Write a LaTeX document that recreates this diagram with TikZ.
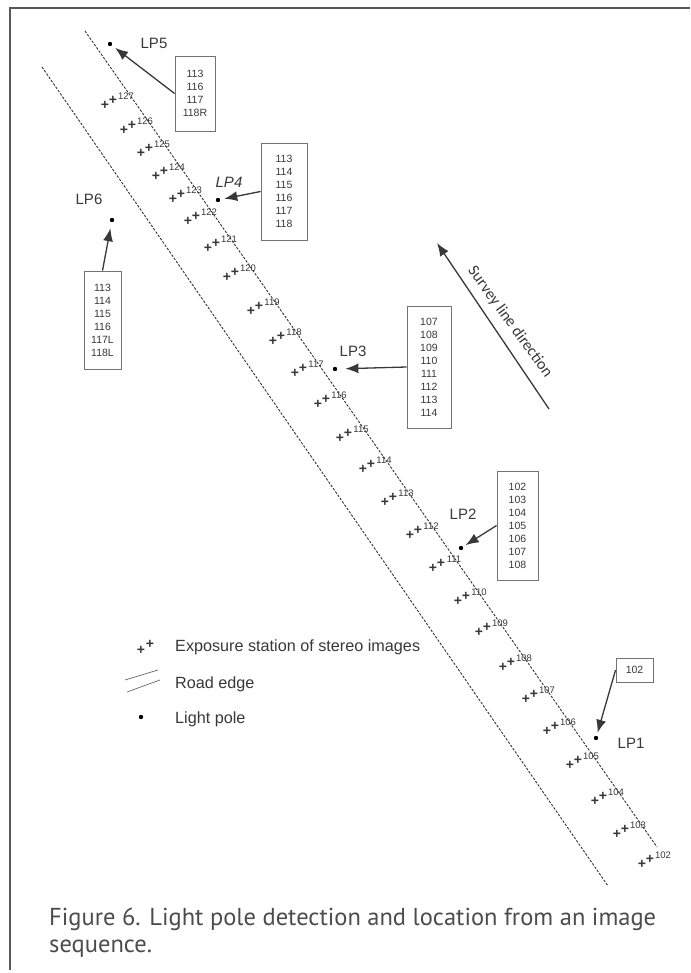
\documentclass[tikz,border=0pt]{standalone}
\usepackage{fontspec}
\setmainfont{Liberation Sans}
\newfontfamily\surveyfont{Carlito}
\newfontfamily\captionfont{PT Sans}
\usetikzlibrary{arrows.meta,calc,positioning}
\definecolor{inkgray}{gray}{0.22}
\tikzset{
  plusmark/.style={inner sep=0pt,font=\fontsize{14}{14}\bfseries\selectfont,text=inkgray},
  stnlabel/.style={inner sep=0pt,font=\fontsize{9.5}{9.5}\selectfont,text=inkgray},
  pole/.style={circle,fill=black,inner sep=0pt,minimum size=4.4pt},
  polename/.style={inner sep=0pt,font=\fontsize{15}{15}\selectfont,text=inkgray},
  listbox/.style={draw=black!55,line width=0.9pt,inner sep=0pt,align=center,
    font=\fontsize{10.5}{13}\selectfont,text=inkgray},
  ptr/.style={-{Latex[length=13pt,width=10pt]},line width=1.3pt,draw=inkgray},
  road/.style={dash pattern=on 2.5pt off 1.5pt,line width=0.9pt,draw=black!80},
  legendtext/.style={anchor=west,inner sep=0pt,font=\fontsize{16.2}{16.2}\selectfont,text=inkgray},
  captext/.style={anchor=base west,inner sep=0pt,text=black!70,font=\captionfont\fontsize{24.5}{24.5}\selectfont}
}
\newcommand{\stn}[3]{%
  \node[plusmark] (s#1) at (#2,#3) {+};
  \node[plusmark] (s#1b) at ($(s#1)+(8,-5)$) {+};
  \node[stnlabel] (t#1) at ($(s#1)+(21,-9)$) {#1};
}
\begin{document}
\begin{tikzpicture}[x=1pt,y=-1pt,>=Latex]
  \useasboundingbox (0,0) rectangle (690,973);
  % frame, top and left only
  \coordinate (frameA) at (690,8);
  \coordinate (frameB) at (10,8);
  \coordinate (frameC) at (10,970);
  \draw[line width=1.2pt,draw=black!65] (frameA) -- (frameB) -- (frameC);
  % road edges
  \coordinate (roadRa) at (85,31);
  \coordinate (roadRb) at (657,847);
  \coordinate (roadLa) at (42,67);
  \coordinate (roadLb) at (608,886);
  \draw[road] (roadRa) -- (roadRb);
  \draw[road] (roadLa) -- (roadLb);
  % exposure stations
  \stn{127}{105}{105}
  \stn{126}{124}{130}
  \stn{125}{141}{153}
  \stn{124}{156}{176}
  \stn{123}{173}{199}
  \stn{122}{188}{221}
  \stn{121}{208}{248}
  \stn{120}{227}{277}
  \stn{119}{251}{311}
  \stn{118}{273}{341}
  \stn{117}{295}{373}
  \stn{116}{318}{404}
  \stn{115}{340}{438}
  \stn{114}{363}{469}
  \stn{113}{385}{502}
  \stn{112}{410}{535}
  \stn{111}{433}{568}
  \stn{110}{458}{601}
  \stn{109}{479}{632}
  \stn{108}{503}{667}
  \stn{107}{526}{699}
  \stn{106}{547}{731}
  \stn{105}{570}{765}
  \stn{104}{595}{801}
  \stn{103}{617}{834}
  \stn{102}{642}{864}
  % light poles
  \node[pole] (lp1) at (596,738) {};
  \node[pole] (lp2) at (461,548) {};
  \node[pole] (lp3) at (335,369) {};
  \node[pole] (lp4) at (218,200) {};
  \node[pole] (lp5) at (110,44) {};
  \node[pole] (lp6) at (112,220) {};
  \node[polename] (name1) at (631,743) {LP1};
  \node[polename] (name2) at (463,514) {LP2};
  \node[polename] (name3) at (353,351) {LP3};
  \node[polename] (name4) at (229,182) {\itshape LP4};
  \node[polename] (name5) at (154,43) {LP5};
  \node[polename] (name6) at (89,199) {LP6};
  % frame numbers
  \node[listbox,minimum width=37pt,minimum height=24pt] (box1) at (634.5,670) {102};
  \node[listbox,minimum width=41pt,minimum height=109pt] (box2) at (517.5,525.5) {102\\103\\104\\105\\106\\107\\108};
  \node[listbox,minimum width=44pt,minimum height=122pt] (box3) at (429,367) {107\\108\\109\\110\\111\\112\\113\\114};
  \node[listbox,minimum width=46pt,minimum height=97pt] (box4) at (284,191.5) {113\\114\\115\\116\\117\\118};
  \node[listbox,minimum width=40pt,minimum height=75pt] (box5) at (195,93.5) {113\\116\\117\\118R};
  \node[listbox,minimum width=37pt,minimum height=98pt] (box6) at (102.5,320) {113\\114\\115\\116\\117L\\118L};
  \draw[ptr,shorten >=3pt] (box1.west) -- (lp1);
  \draw[ptr,shorten >=3pt] (box2.west) -- (lp2);
  \draw[ptr,shorten >=8pt] (box3.west) -- (lp3);
  \draw[ptr,shorten >=4pt] (box4.west) -- (lp4);
  \draw[ptr,shorten >=4pt] (box5.west) -- (lp5);
  \draw[ptr,shorten >=6pt] (box6.north) -- (lp6);
  % survey direction
  \coordinate (surveyTail) at (549,409);
  \coordinate (surveyTip) at (437,243);
  \draw[ptr] (surveyTail) -- (surveyTip);
  \node[inner sep=0pt,rotate=-54,text=inkgray,font=\surveyfont\fontsize{16}{16}\selectfont] (surveyText) at (510,322) {Survey line direction};
  % legend
  \node[plusmark] (legA) at (141,650) {+};
  \node[plusmark] (legB) at (150,644) {+};
  \coordinate (legRoadA) at (125,680);
  \coordinate (legRoadB) at (158,670);
  \coordinate (legRoadC) at (127,692);
  \coordinate (legRoadD) at (160,680);
  \draw[line width=0.7pt,draw=black!60] (legRoadA) -- (legRoadB);
  \draw[line width=0.7pt,draw=black!60] (legRoadC) -- (legRoadD);
  \node[pole] (legPole) at (141,717) {};
  \node[legendtext] (legText1) at (175,647) {Exposure station of stereo images};
  \node[legendtext] (legText2) at (175,684) {Road edge};
  \node[legendtext] (legText3) at (175,719) {Light pole};
  % caption
  \node[captext] (capA) at (49,925) {Figure 6. Light pole detection and location from an image};
  \node[captext] (capB) at (49,952) {sequence.};
\end{tikzpicture}
\end{document}
